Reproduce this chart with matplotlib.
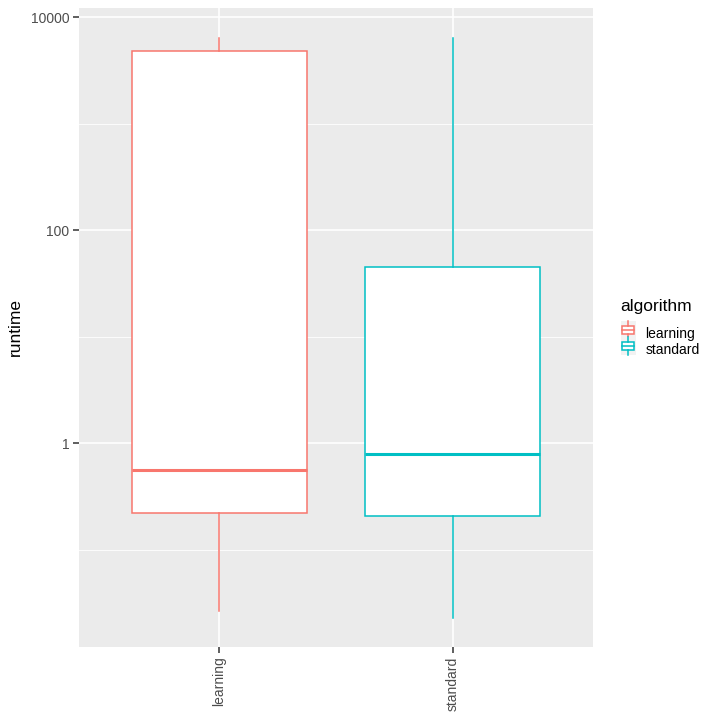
import numpy as np
import matplotlib.pyplot as plt
from matplotlib.legend_handler import HandlerBase
from matplotlib.patches import Rectangle
from matplotlib.lines import Line2D

plt.rcParams['font.family'] = ['Liberation Sans', 'DejaVu Sans']

# boxplot stats (log scale)
algorithms = ['learning', 'standard']
colors = ['#F8766D', '#00BFC4']
whislo = [0.0266, 0.0229]
q1 = [0.219, 0.205]
med = [0.561, 0.794]
q3 = [4830, 45.2]
whishi = [6350, 6350]

stats = [dict(label=a, whislo=lo, q1=a1, med=m, q3=a3, whishi=hi, fliers=[])
         for a, lo, a1, m, a3, hi in zip(algorithms, whislo, q1, med, q3, whishi)]

fig = plt.figure(figsize=(7.2, 7.2), dpi=100)
ax = fig.add_axes([79/720, 73/720, 514/720, 639/720])
ax.set_facecolor('#EBEBEB')

ax.set_yscale('log')
ax.set_ylim(10**-1.915, 10**4.085)
ax.set_xlim(0.4, 2.6)

# grid
for y in [0.1, 10, 1000]:
    ax.axhline(y, color='white', lw=0.6, zorder=0)
for y in [1, 100, 10000]:
    ax.axhline(y, color='white', lw=1.2, zorder=0)
for x in [1, 2]:
    ax.axvline(x, color='white', lw=1.2, zorder=0)

for i, (s, c) in enumerate(zip(stats, colors)):
    ax.bxp([s], positions=[i + 1], widths=0.75, showcaps=False, showfliers=False,
           patch_artist=True,
           boxprops=dict(facecolor='white', edgecolor=c, lw=1.1),
           whiskerprops=dict(color=c, lw=1.1),
           medianprops=dict(color=c, lw=2.2),
           manage_ticks=False, zorder=2)

ax.set_yticks([1, 100, 10000])
ax.set_yticklabels(['1', '100', '10000'])
ax.yaxis.set_minor_locator(plt.NullLocator())
ax.set_xticks([1, 2])
ax.set_xticklabels(algorithms, rotation=90)
ax.tick_params(length=4, width=1.1, color='#333333', labelcolor='#4D4D4D',
               labelsize=10, pad=3)
for sp in ax.spines.values():
    sp.set_visible(False)
ax.set_ylabel('runtime', fontsize=12.5)
ax.yaxis.set_label_coords(-56/514, 0.5)


class BoxKey(HandlerBase):
    def create_artists(self, legend, orig, xd, yd, w, h, fontsize, trans):
        c = orig.get_color()
        bg = Rectangle((xd, yd - 2), w, h + 4, facecolor='#F2F2F2', edgecolor='none', transform=trans)
        box = Rectangle((xd + w*0.1, yd + h*0.2), w*0.8, h*0.6, facecolor='white',
                        edgecolor=c, lw=1.1, transform=trans)
        mid = Line2D([xd + w*0.1, xd + w*0.9], [yd + h/2]*2, color=c, lw=1.1, transform=trans)
        wt = Line2D([xd + w/2]*2, [yd + h*0.8, yd + h + 2], color=c, lw=1.1, transform=trans)
        wb = Line2D([xd + w/2]*2, [yd - 2, yd + h*0.2], color=c, lw=1.1, transform=trans)
        return [bg, box, mid, wt, wb]


handles = [Line2D([], [], color=c) for c in colors]
leg = fig.legend(handles, algorithms, handler_map={Line2D: BoxKey()},
                 loc='center left', bbox_to_anchor=(608/720, 1 - 328/720), frameon=False,
                 title='algorithm', fontsize=10, title_fontsize=12.5,
                 handlelength=1.1, handleheight=1.0, handletextpad=0.7,
                 labelspacing=0.15, alignment='left')
leg._legend_box.sep = 9

fig.savefig('out.png', dpi=100)
